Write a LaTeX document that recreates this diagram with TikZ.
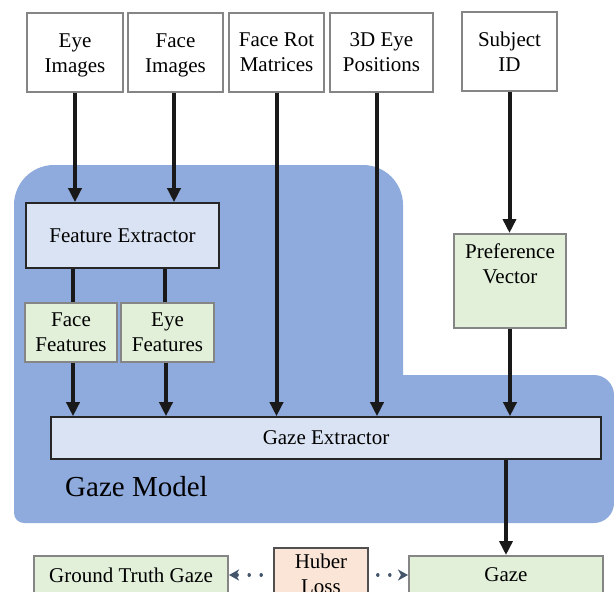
\documentclass[tikz,border=0pt]{standalone}
\usepackage{fontspec}
\setmainfont{Liberation Serif}
\usetikzlibrary{arrows.meta}
\definecolor{modelblue}{HTML}{8FAADC}
\definecolor{lightblue}{HTML}{DAE3F3}
\definecolor{lightgreen}{HTML}{E2F0D9}
\definecolor{peach}{HTML}{FBE5D6}
\definecolor{boxgray}{HTML}{858585}
\definecolor{darkline}{HTML}{262626}
\definecolor{hubergray}{HTML}{505050}
\definecolor{slate}{HTML}{44546A}
\begin{document}
\begin{tikzpicture}[x=1pt,y=-1pt,
  every node/.style={font=\fontsize{21pt}{25pt}\selectfont, inner sep=0pt, align=center},
  inbox/.style={draw=boxgray, line width=2.5pt, fill=white},
  featbox/.style={draw=boxgray, line width=2pt, fill=lightgreen},
  procbox/.style={draw=darkline, line width=1.6pt, fill=lightblue},
  arr/.style={line width=4pt, draw=black!90, -{Triangle[length=14pt,width=13pt]}},
  plainline/.style={line width=4pt, draw=black!90},
  dotarr/.style={line width=3.5pt, draw=slate, line cap=round, dash pattern=on 0.01pt off 12pt, -{Stealth[length=10pt,width=11pt,inset=3pt]}}
]
\useasboundingbox (0,0) rectangle (614,592);
% gaze model region
\fill[modelblue] (14,205) .. controls (14,182.9) and (31.9,165) .. (54,165)
  -- (363,165) .. controls (385.1,165) and (403,182.9) .. (403,205)
  -- (403,375) -- (594,375) .. controls (605,375) and (614,384) .. (614,395)
  -- (614,503) .. controls (614,514) and (605,523) .. (594,523)
  -- (24,523) .. controls (18.5,523) and (14,518.5) .. (14,513) -- cycle;
\node[font=\fontsize{29pt}{34pt}\selectfont, anchor=base west] (gm) at (65,496) {Gaze Model};

% inputs
\node[inbox, minimum width=96pt, minimum height=79pt] (eyeimg) at (75,52.5) {\rule{0pt}{19pt}Eye\\Images};
\node[inbox, minimum width=95pt, minimum height=79pt] (faceimg) at (175.5,52.5) {\rule{0pt}{19pt}Face\\Images};
\node[inbox, minimum width=95pt, minimum height=79pt] (facerot) at (276.5,52.5) {Face Rot\\Matrices};
\node[inbox, minimum width=103pt, minimum height=79pt] (eyepos) at (381.5,52.5) {3D Eye\\Positions};
\node[inbox, minimum width=95pt, minimum height=79pt] (subj) at (509.5,51.5) {Subject\\ID};

% model internals
\node[procbox, minimum width=193pt, minimum height=65pt] (fe) at (122.5,235.5) {Feature Extractor};
\node[featbox, minimum width=92pt, minimum height=59pt] (facefeat) at (71,332.5) {Face\\Features};
\node[featbox, minimum width=93pt, minimum height=59pt] (eyefeat) at (167.5,332.5) {Eye\\Features};
\node[featbox, minimum width=112pt, minimum height=94pt,
  label={[anchor=north, yshift=-11pt, align=center]north:{Preference\\Vector}}] (pref) at (510,281) {};
\node[procbox, minimum width=550pt, minimum height=42pt] (gx) at (326,438) {Gaze Extractor};

% outputs
\node[featbox, minimum width=194pt, minimum height=38pt] (gtg) at (131,575) {Ground Truth Gaze};
\node[draw=hubergray, line width=1.6pt, fill=peach, minimum width=94pt, minimum height=51pt] (huber) at (321,573.5) {Huber\\Loss};
\node[featbox, minimum width=194pt, minimum height=38pt] (gaze) at (506,575) {Gaze};

% connectors
\draw[arr] (eyeimg.south) -- (eyeimg.south |- fe.north);
\draw[arr] ([xshift=-1.5pt]faceimg.south) -- ([xshift=-1.5pt]faceimg.south |- fe.north);
\draw[arr] (facerot.south) -- (facerot.south |- gx.north);
\draw[arr] ([xshift=-4.5pt]eyepos.south) -- ([xshift=-4.5pt]eyepos.south |- gx.north);
\draw[arr] (subj.south) -- (subj.south |- pref.north);
\draw[plainline] ([xshift=2pt]facefeat.north |- fe.south) -- ([xshift=2pt]facefeat.north);
\draw[plainline] ([xshift=-2.5pt]eyefeat.north |- fe.south) -- ([xshift=-2.5pt]eyefeat.north);
\draw[arr] ([xshift=2pt]facefeat.south) -- ([xshift=2pt]facefeat.south |- gx.north);
\draw[arr] ([xshift=-1.5pt]eyefeat.south) -- ([xshift=-1.5pt]eyefeat.south |- gx.north);
\draw[arr] (pref.south) -- (pref.south |- gx.north);
\draw[arr] (gaze.north |- gx.south) -- (gaze.north);
\draw[dotarr, shorten <=12pt] (huber.west |- gtg.east) -- (gtg.east);
\draw[dotarr, shorten <=9pt] (huber.east |- gaze.west) -- (gaze.west);
\end{tikzpicture}
\end{document}
